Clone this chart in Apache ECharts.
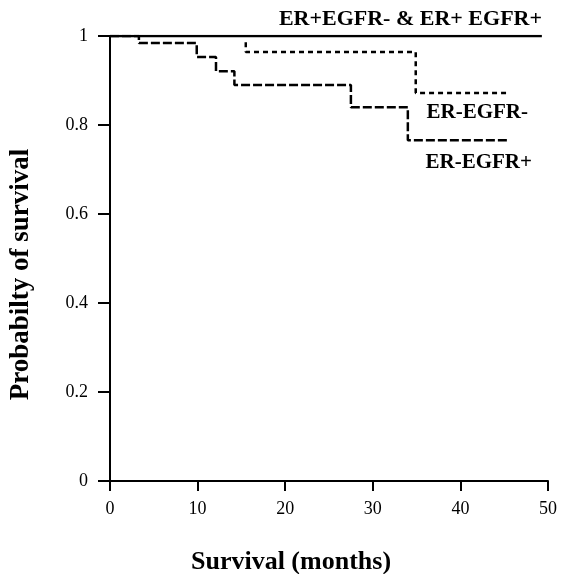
<!DOCTYPE html>
<html>
<head>
<meta charset="utf-8">
<script src="https://cdn.jsdelivr.net/npm/echarts@6/dist/echarts.min.js"></script>
<style>
  html, body { margin: 0; padding: 0; background: #fff; }
  #chart { width: 561px; height: 574px; }
</style>
</head>
<body>
<div id="chart"></div>
<script>
// survival curves (months, probability)
const erPosMonths = [0, 49.3];
const erPosSurv = [1, 1];

const erNegEgfrNegMonths = [15.5, 15.5, 34.9, 45.5];
const erNegEgfrNegSurv = [0.986, 0.964, 0.872, 0.872];

const erNegEgfrPosMonths = [0, 3.3, 9.9, 12.1, 14.2, 27.5, 34.0, 45.5];
const erNegEgfrPosSurv = [1, 0.984, 0.953, 0.921, 0.89, 0.84, 0.766, 0.766];

const xTicks = [0, 10, 20, 30, 40, 50];
const yTicks = [0, 0.2, 0.4, 0.6, 0.8, 1];

const font = '"Liberation Serif", "DejaVu Serif", serif';

function pairs(xs, ys) {
  return xs.map((x, i) => [x, ys[i]]);
}

const chartDom = document.getElementById('chart');
const myChart = echarts.init(chartDom);

const option = {
  backgroundColor: '#fff',
  animation: false,
  grid: {
    left: 110,
    right: 13,
    top: 36,
    bottom: 93,
    containLabel: false,
    outerBoundsMode: 'none',
  },
  xAxis: {
    type: 'value',
    min: 0,
    max: 50,
    interval: 10,
    name: 'Survival (months)',
    nameLocation: 'middle',
    nameGap: 68,
    nameTextStyle: {
      fontFamily: font,
      fontSize: 26,
      fontWeight: 'bold',
      color: '#000',
      padding: [0, 76, 0, 0],
    },
    axisLine: { onZero: false, lineStyle: { color: '#000', width: 2 } },
    axisTick: { show: true, length: 10, lineStyle: { color: '#000', width: 2 } },
    axisLabel: {
      fontFamily: font,
      fontSize: 18,
      color: '#000',
      margin: 19,
      formatter: v => (xTicks.includes(v) ? String(v) : ''),
    },
    splitLine: { show: false },
  },
  yAxis: {
    type: 'value',
    min: 0,
    max: 1,
    interval: 0.2,
    name: 'Probabilty of survival',
    nameLocation: 'middle',
    nameGap: 75,
    nameTextStyle: {
      fontFamily: font,
      fontSize: 27,
      fontWeight: 'bold',
      color: '#000',
      padding: [0, 32, 0, 0],
    },
    axisLine: { show: true, lineStyle: { color: '#000', width: 2 } },
    axisTick: { show: true, length: 12, lineStyle: { color: '#000', width: 2 } },
    axisLabel: {
      fontFamily: font,
      fontSize: 18,
      color: '#000',
      margin: 22,
      formatter: v => {
        const t = yTicks.find(k => Math.abs(k - v) < 1e-6);
        return t === undefined ? '' : String(t);
      },
    },
    splitLine: { show: false },
  },
  series: [
    {
      name: 'ER+EGFR- & ER+ EGFR+',
      type: 'line',
      step: 'end',
      symbol: 'none',
      lineStyle: { color: '#000', width: 2.5 },
      data: pairs(erPosMonths, erPosSurv),
    },
    {
      name: 'ER-EGFR-',
      type: 'line',
      step: 'end',
      symbol: 'none',
      lineStyle: { color: '#000', width: 2.5, type: [5, 4] },
      data: pairs(erNegEgfrNegMonths, erNegEgfrNegSurv),
    },
    {
      name: 'ER-EGFR+',
      type: 'line',
      step: 'end',
      symbol: 'none',
      lineStyle: { color: '#000', width: 2.5, type: [9, 3] },
      data: pairs(erNegEgfrPosMonths, erNegEgfrPosSurv),
    },
  ],
  graphic: [
    {
      type: 'text',
      right: 19,
      top: 8,
      style: { text: 'ER+EGFR- & ER+ EGFR+', font: 'bold 22px ' + font, fill: '#000' },
    },
    {
      type: 'text',
      right: 33,
      top: 102,
      style: { text: 'ER-EGFR-', font: 'bold 21px ' + font, fill: '#000' },
    },
    {
      type: 'text',
      right: 29,
      top: 152,
      style: { text: 'ER-EGFR+', font: 'bold 21px ' + font, fill: '#000' },
    },
  ],
};

myChart.setOption(option);
window.addEventListener('resize', () => {
  myChart.resize();
});
</script>
</body>
</html>
